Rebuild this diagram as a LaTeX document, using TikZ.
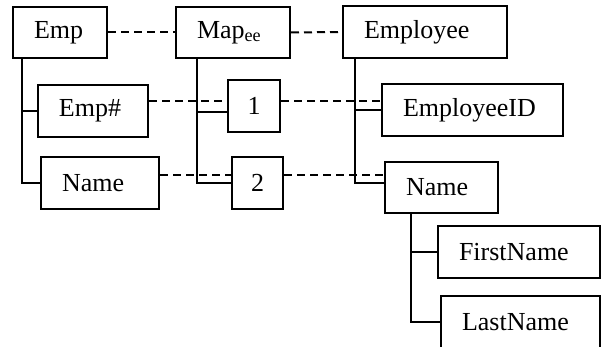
\documentclass[tikz,border=0pt]{standalone}
\usepackage{fontspec}
\setmainfont{Liberation Serif}
\usetikzlibrary{calc}

\begin{document}
\begin{tikzpicture}[x=0.5pt,y=-0.5pt,
    box/.style={draw,line width=1pt,inner sep=0pt,font=\fontsize{13}{15}\selectfont},
    lbox/.style={box,inner xsep=10.5pt,align=left,text width=#1},
    tree/.style={line width=1pt},
    link/.style={line width=1pt,dash pattern=on 4pt off 2.5pt}]
  \useasboundingbox (0,0) rectangle (601,347);
  \clip (0,0) rectangle (601,347);

  \node[lbox=26pt,minimum height=25.5pt] (emp) at (60,32.5) {Emp};
  \node[lbox=36pt,minimum height=25.5pt] (map) at (233,32.5) {Map\textsubscript{ee}};
  \node[lbox=61pt,minimum height=26pt] (employee) at (425,32) {Employee};

  \node[lbox=34pt,minimum height=26pt] (empno) at (93,111) {Emp\#};
  \node[box,minimum width=26pt,minimum height=26pt] (one) at (254,106) {1};
  \node[lbox=69.5pt,minimum height=26pt] (empid) at (472.5,110) {EmployeeID};

  \node[lbox=38pt,minimum height=26pt] (namel) at (100,183) {Name};
  \node[box,minimum width=25.5pt,minimum height=26pt] (two) at (257.5,183) {2};
  \node[lbox=35.5pt,minimum height=25.5pt] (namer) at (441.5,187.5) {Name};

  \node[lbox=60pt,minimum height=26pt] (first) at (519,252) {FirstName};
  \node[lbox=58.5pt,minimum height=26pt] (last) at (520.5,322) {LastName};

  % trees
  \draw[tree] ($(emp.south west)+(10,0)$) |- (namel.west);
  \draw[tree] ($(emp.south west)+(10,0)$) |- (empno.west);
  \draw[tree] ($(map.south west)+(22,0)$) |- (two.west);
  \draw[tree] ($(map.south west)+(22,0)$) |- ($(one.west)+(0,6)$);
  \draw[tree] ($(employee.south west)+(13,0)$) |- ($(namer.west)+(0,-4.5)$);
  \draw[tree] ($(employee.south west)+(13,0)$) |- (empid.west);
  \draw[tree] ($(namer.south west)+(27,0)$) |- (last.west);
  \draw[tree] ($(namer.south west)+(27,0)$) |- (first.west);

  % mappings
  \draw[link] (emp.east) -- (map.west);
  \draw[link] (map.east) -- (employee.west);
  \draw[link] ($(empno.east)+(0,-10)$) -- ($(one.west)+(0,-5)$);
  \draw[link] ($(one.east)+(0,-5)$) -- ($(empid.west)+(0,-9)$);
  \draw[link] ($(namel.east)+(0,-8)$) -- ($(two.west)+(0,-8)$);
  \draw[link] ($(two.east)+(0,-8)$) -- ($(namer.west)+(0,-12.5)$);
\end{tikzpicture}
\end{document}
